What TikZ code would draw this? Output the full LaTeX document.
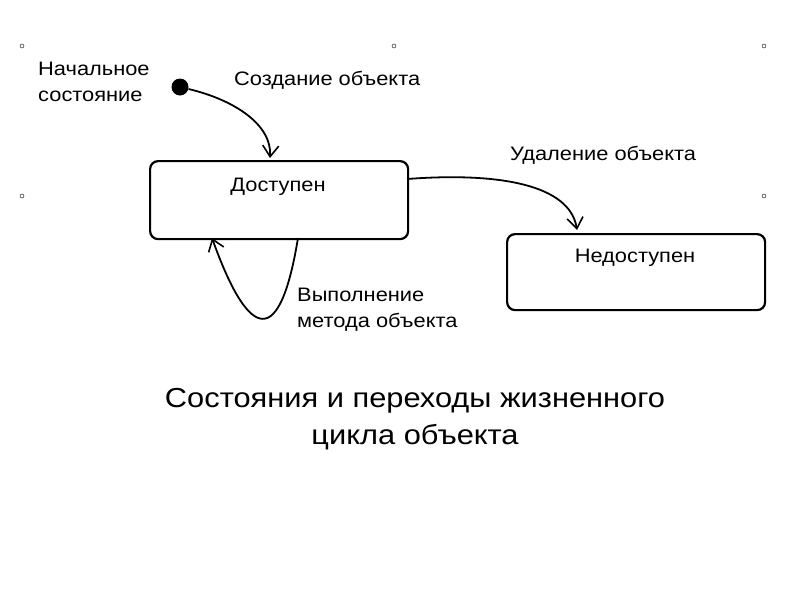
\documentclass[tikz,border=0pt]{standalone}
\usepackage{fontspec}
\setmainfont{Liberation Sans}[FakeStretch=1.12]
\usetikzlibrary{arrows.meta}
\begin{document}
\begin{tikzpicture}[x=1pt,y=-1pt,
  st/.style={draw,line width=2.2pt,rounded corners=8pt,minimum width=258pt,anchor=north west,inner sep=0pt},
  lbl/.style={font=\fontsize{19.5}{26}\selectfont,align=left,inner sep=0pt},
  tr/.style={line width=1.8pt,-{Straight Barb[length=11pt,width=16pt,line width=1.6pt]}},
  hd/.style={draw,line width=0.4pt,circle,minimum size=4pt,inner sep=0pt}]
\useasboundingbox (0,0) rectangle (800,600);
\foreach \n/\p in {h1/{(22,46)},h2/{(394,46)},h3/{(764,46)},h4/{(22,196)},h5/{(764,196)}}
  \node[hd] (\n) at \p {};
\node[st,minimum height=78pt] (a) at (149,160) {};
\node[lbl,anchor=center] (at) at (278,187) {Доступен};
\node[st,minimum height=76pt] (b) at (506,233) {};
\node[lbl,anchor=center] (bt) at (635,258) {Недоступен};
\node[fill,circle,minimum size=17pt,inner sep=0pt] (s) at (180,87) {};
\node[lbl,anchor=north west] (l1) at (38,62) {Начальное\\состояние};
\node[lbl,anchor=west] (l2) at (234,80) {Создание объекта};
\node[lbl,anchor=west] (l3) at (510,155) {Удаление объекта};
\node[lbl,anchor=north west] (l4) at (297,288) {Выполнение\\метода объекта};
\node[font=\fontsize{27.5}{37}\selectfont,align=center] (t) at (415,419) {Состояния и переходы жизненного\\цикла объекта};
\coordinate (a1) at (270,158);
\coordinate (a2) at (407,179);
\coordinate (b1) at (577,230);
\coordinate (a3) at (298,238);
\coordinate (a4) at (212,238);
\draw[tr] (s) .. controls (235,100) and (272,125) .. (a1);
\draw[tr] (a2) .. controls (500,172) and (570,185) .. (b1);
\draw[tr] (a3) .. controls (278,360) and (245,330) .. (a4);
\end{tikzpicture}
\end{document}
